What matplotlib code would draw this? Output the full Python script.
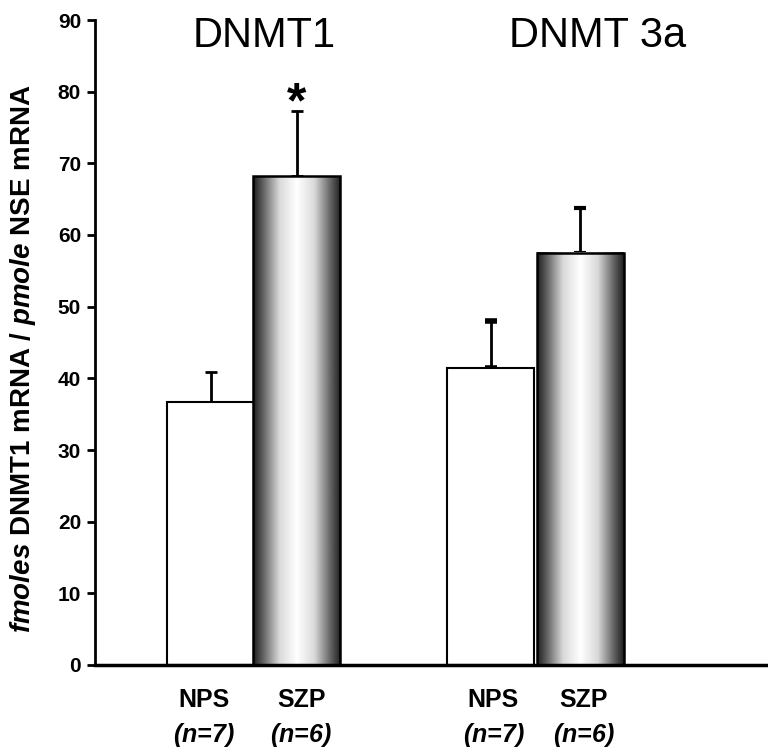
import numpy as np
import matplotlib.pyplot as plt

# data
groups = ['DNMT1', 'DNMT 3a']
labels = ['NPS', 'SZP', 'NPS', 'SZP']
ns = ['(n=7)', '(n=6)', '(n=7)', '(n=6)']
means = [36.7, 68.2, 41.4, 57.5]
errs = [4.2, 9.1, 6.6, 6.2]
gradient = [False, True, False, True]
signif = [False, True, False, False]

xpos = [1.33, 2.32, 4.55, 5.58]
label_x = [1.25, 2.37, 4.58, 5.62]
title_x = [1.94, 5.78]
cap_lw = [2, 2, 4, 3]
width = 1.0

plt.rcParams['font.family'] = ['Liberation Sans', 'DejaVu Sans']
plt.rcParams['mathtext.fontset'] = 'custom'
plt.rcParams['mathtext.it'] = 'Liberation Sans:italic:bold'
plt.rcParams['mathtext.rm'] = 'Liberation Sans:bold'

fig = plt.figure(figsize=(7.68, 7.54), dpi=100)
ax = fig.add_axes([95/768, 89/754, 673/768, 645/754])

# cylinder-like shading for the SZP bars
t = np.linspace(0, 1, 200)
shade = np.interp(t, [0, 0.12, 0.3, 0.5, 0.7, 0.88, 1],
                  [0.12, 0.4, 0.85, 1.0, 0.85, 0.4, 0.12])
img = shade[np.newaxis, :]

for x, m, e, g, clw in zip(xpos, means, errs, gradient, cap_lw):
    ax.errorbar(x, m, yerr=[[0], [e]], fmt='none', ecolor='black',
                elinewidth=2, capsize=4, capthick=clw, zorder=1)
    x0 = x - width / 2
    if g:
        ax.imshow(img, cmap='gray', vmin=0, vmax=1, aspect='auto',
                  extent=(x0, x0 + width, 0, m), zorder=2, interpolation='bilinear')
        ax.bar(x, m, width=width, facecolor='none', edgecolor='black',
               linewidth=1.8, zorder=3)
    else:
        ax.bar(x, m, width=width, facecolor='white', edgecolor='black',
               linewidth=1.5, zorder=2)

for x, m, e, s in zip(xpos, means, errs, signif):
    if s:
        ax.text(x, m + e + 0.9, '*', ha='center', va='center',
                fontsize=36, fontweight='bold')

ax.set_xlim(0, 673/87)
ax.set_ylim(0, 90)
ax.set_yticks(range(0, 91, 10))
ax.set_xticks([])
for lbl in ax.get_yticklabels():
    lbl.set_fontweight('bold')
    lbl.set_fontsize(15)
ax.tick_params(axis='y', direction='out', length=6, width=2, pad=4)
ax.spines['top'].set_visible(False)
ax.spines['right'].set_visible(False)
ax.spines['left'].set_linewidth(2)
ax.spines['bottom'].set_linewidth(2.5)

ax.set_ylabel(r'$\it{fmoles}$ DNMT1 mRNA / $\it{pmole}$ NSE mRNA',
              fontsize=20, fontweight='bold')
ax.yaxis.set_label_coords(-0.085, 0.475)

# group titles
for tx, g in zip(title_x, groups):
    ax.text(tx, 86.2, g, ha='center', va='baseline', fontsize=30)

# category labels below axis
for x, lab, n in zip(label_x, labels, ns):
    ax.text(x, -4.9, lab, ha='center', va='center', fontsize=18, fontweight='bold')
    ax.text(x, -9.8, n.replace('n', r'$\it{n}$'), ha='center', va='center',
            fontsize=18, style='italic', fontweight='bold')

fig.savefig('out.png', dpi=100)
